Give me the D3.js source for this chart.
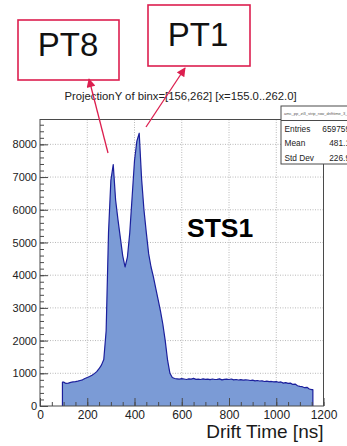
<!DOCTYPE html>
<html>
<head>
<meta charset="utf-8">
<script src="https://cdn.jsdelivr.net/npm/d3@7/dist/d3.min.js"></script>
<style>
  html, body { margin: 0; padding: 0; background: #fff; }
  svg { display: block; font-family: "Liberation Sans", Arial, Helvetica, sans-serif; }
</style>
</head>
<body>
<svg id="chart" width="347" height="446"></svg>
<script>
// Drift-time histogram (10 ns bins), bin centres in ns and entries per bin
const binCenters = d3.range(100, 1151, 10);
const binWidth = 10;
const counts = [
  730, 690, 700, 720, 735, 745, 760, 780, 800, 840,        // 100-190
  870, 900, 940, 990, 1050, 1140, 1250, 1420, 2300, 5300,  // 200-290
  6900, 7380, 6300, 5700, 5150, 4600, 4250, 4550, 5300, 6400, // 300-390
  7500, 8100, 8340, 6950, 6000, 5300, 4650, 4250, 3950, 3600, // 400-490
  3250, 2900, 2500, 2000, 1400, 1000, 870, 840, 830, 820,   // 500-590
  835, 825, 810, 830, 820, 845, 815, 820, 810, 830,         // 600-690
  815, 820, 805, 825, 810, 815, 830, 800, 815, 820,         // 700-790
  810, 825, 800, 810, 795, 805, 790, 800, 795, 780,         // 800-890
  790, 770, 780, 765, 770, 750, 760, 745, 750, 740,         // 900-990
  745, 725, 735, 700, 715, 690, 700, 660, 670, 620,         // 1000-1090
  600, 590, 560, 570, 520, 500                              // 1100-1150
];

const xTicks = [0, 200, 400, 600, 800, 1000, 1200];
const yTicks = [0, 1000, 2000, 3000, 4000, 5000, 6000, 7000, 8000];
const xMinorTicks = d3.range(0, 1201, 50);
const yMinorTicks = d3.range(0, 8700, 200);

const titleText = "ProjectionY of binx=[156,262] [x=155.0..262.0]";
const xAxisTitle = "Drift Time [ns]";
const statLabels = ["Entries", "Mean", "Std Dev"];
const statValues = ["659759", "481.1", "226.9"];
const statHeader = "amc_pp_zt3_strip_row_drifttime_3_1";

const svg = d3.select("#chart");
const frame = { left: 40, right: 323.5, top: 119.5, bottom: 406 };

const x = d3.scaleLinear().domain([0, 1200]).range([frame.left, frame.right]);
const y = d3.scaleLinear().domain([0, 8760]).range([frame.bottom, frame.top]);

const frameColor = "#4a4a4a";
const gridColor = "#b8b8b8";
const accent = "#dc1f4f";

// Dotted grid at major ticks
const grid = svg.append("g");
grid.selectAll("line.gx").data(xTicks.filter(d => d > 0 && d < 1200)).join("line")
  .attr("x1", d => x(d)).attr("x2", d => x(d))
  .attr("y1", frame.top).attr("y2", frame.bottom)
  .attr("stroke", gridColor).attr("stroke-width", 1).attr("stroke-dasharray", "1,1.5");
grid.selectAll("line.gy").data(yTicks.filter(d => d > 0)).join("line")
  .attr("x1", frame.left).attr("x2", frame.right)
  .attr("y1", d => y(d)).attr("y2", d => y(d))
  .attr("stroke", gridColor).attr("stroke-width", 1).attr("stroke-dasharray", "1,1.5");

// Histogram contour through the bin centres, closed down to zero at both edges
const firstEdge = binCenters[0] - binWidth / 2;
const lastEdge = binCenters[binCenters.length - 1] + binWidth / 2;
const pts = binCenters.map((c, i) => ({ t: c, v: counts[i] }));
const outlinePts = [
  { t: firstEdge, v: 0 },
  { t: firstEdge, v: counts[0] },
  ...pts,
  { t: lastEdge, v: counts[counts.length - 1] },
  { t: lastEdge, v: 0 }
];

const area = d3.area()
  .x(d => x(d.t)).y0(y(0)).y1(d => y(d.v));
svg.append("path").datum(outlinePts)
  .attr("d", area)
  .attr("fill", "#7b9bd6");

const line = d3.line().x(d => x(d.t)).y(d => y(d.v));
svg.append("path").datum(outlinePts)
  .attr("d", line)
  .attr("fill", "none")
  .attr("stroke", "#1b1f9c")
  .attr("stroke-width", 1.2)
  .attr("stroke-linejoin", "round");

// Frame
svg.append("rect")
  .attr("x", frame.left).attr("y", frame.top)
  .attr("width", frame.right - frame.left).attr("height", frame.bottom - frame.top)
  .attr("fill", "none").attr("stroke", frameColor).attr("stroke-width", 1);

// Axes with inward ticks
function styleAxis(g) {
  g.select(".domain").remove();
  g.selectAll(".tick line").attr("stroke", frameColor).attr("stroke-width", 1);
  g.selectAll(".tick text").attr("fill", "#222").attr("font-family", "Liberation Sans, Arial, sans-serif");
}

svg.append("g").attr("transform", `translate(0,${frame.bottom})`)
  .call(d3.axisBottom(x).tickValues(xMinorTicks).tickSize(-4).tickFormat(""))
  .call(styleAxis);
svg.append("g").attr("transform", `translate(0,${frame.bottom})`)
  .call(d3.axisBottom(x).tickValues(xTicks).tickSize(-8).tickPadding(4).tickFormat(d3.format("d")))
  .call(styleAxis)
  .call(g => g.selectAll(".tick text").attr("font-size", 12));

svg.append("g").attr("transform", `translate(${frame.left},0)`)
  .call(d3.axisLeft(y).tickValues(yMinorTicks).tickSize(-4).tickFormat(""))
  .call(styleAxis);
svg.append("g").attr("transform", `translate(${frame.left},0)`)
  .call(d3.axisLeft(y).tickValues(yTicks).tickSize(-8).tickPadding(3).tickFormat(d3.format("d")))
  .call(styleAxis)
  .call(g => g.selectAll(".tick text").attr("font-size", 11));

// Axis title, right-aligned to the frame
svg.append("text")
  .attr("x", frame.right).attr("y", 438)
  .attr("text-anchor", "end")
  .attr("font-size", 19).attr("fill", "#1a1a1a")
  .text(xAxisTitle);

// Histogram title
svg.append("text")
  .attr("x", 180.5).attr("y", 99.5)
  .attr("text-anchor", "middle")
  .attr("font-size", 11.3).attr("fill", "#222")
  .text(titleText);

// Statistics box
const stat = svg.append("g");
stat.append("rect")
  .attr("x", 281).attr("y", 106).attr("width", 90).attr("height", 58)
  .attr("fill", "#fff").attr("stroke", frameColor).attr("stroke-width", 1);
stat.append("line")
  .attr("x1", 281).attr("x2", 371).attr("y1", 120.5).attr("y2", 120.5)
  .attr("stroke", frameColor).attr("stroke-width", 1);
stat.append("text")
  .attr("x", 284).attr("y", 115).attr("font-size", 4).attr("fill", "#555")
  .text(statHeader);
statLabels.forEach((lab, i) => {
  const yy = 131.5 + i * 14.5;
  stat.append("text").attr("x", 284.5).attr("y", yy).attr("font-size", 8.3).attr("fill", "#222").text(lab);
  stat.append("text").attr("x", 350).attr("y", yy).attr("text-anchor", "end")
    .attr("font-size", 8.3).attr("fill", "#222").text(statValues[i]);
});

// Station label
svg.append("text")
  .attr("x", 187).attr("y", 237)
  .attr("font-size", 26.5).attr("font-weight", "bold").attr("fill", "#000")
  .text("STS1");

// Peak callouts: boxed labels with arrows pointing at each peak
svg.append("defs").append("marker")
  .attr("id", "head")
  .attr("viewBox", "0 0 10 10")
  .attr("refX", 9).attr("refY", 5)
  .attr("markerWidth", 10).attr("markerHeight", 9)
  .attr("markerUnits", "userSpaceOnUse")
  .attr("orient", "auto")
  .append("path").attr("d", "M0,0 L10,5 L0,10 Z").attr("fill", accent);

const callouts = [
  { label: "PT8", box: [18, 20, 101, 60], text: [68, 56], from: [108, 153], to: [89, 79] },
  { label: "PT1", box: [148, 5, 102, 61], text: [198, 46], from: [146, 127], to: [185, 68] }
];
callouts.forEach(c => {
  svg.append("rect")
    .attr("x", c.box[0]).attr("y", c.box[1]).attr("width", c.box[2]).attr("height", c.box[3])
    .attr("fill", "#fff").attr("stroke", accent).attr("stroke-width", 1.6);
  svg.append("text")
    .attr("x", c.text[0]).attr("y", c.text[1])
    .attr("text-anchor", "middle")
    .attr("font-size", 33).attr("fill", "#111")
    .text(c.label);
  svg.append("line")
    .attr("x1", c.from[0]).attr("y1", c.from[1]).attr("x2", c.to[0]).attr("y2", c.to[1])
    .attr("stroke", accent).attr("stroke-width", 1.3)
    .attr("marker-end", "url(#head)");
});
</script>
</body>
</html>
